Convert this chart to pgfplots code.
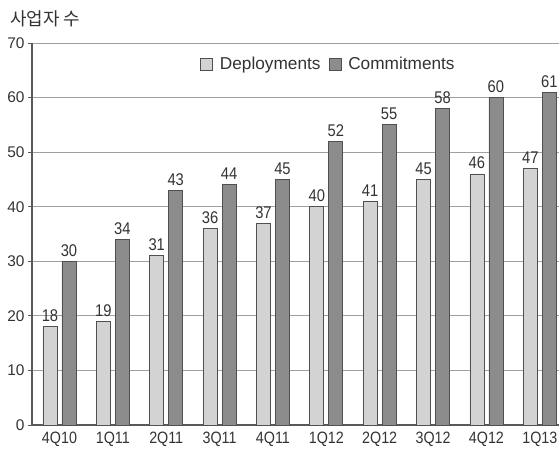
\documentclass[border=0pt]{standalone}
\usepackage{pgfplots}
\pgfplotsset{compat=1.18}
\usepackage{fontspec}
\setmainfont{Liberation Sans}
\newfontfamily\cond[FakeStretch=0.87]{Liberation Sans}
\newfontfamily\kr{Noto Sans CJK KR}
\definecolor{lightbar}{HTML}{D3D3D3}
\definecolor{darkbar}{HTML}{8C8C8C}
\definecolor{edge}{HTML}{505050}
\definecolor{gridc}{HTML}{A0A0A0}
\definecolor{txt}{HTML}{333333}
\begin{document}
\begin{tikzpicture}
  \begin{axis}[
    scale only axis,
    width=527bp,
    height=382bp,
    ymin=0, ymax=70,
    xmin=-0.515, xmax=9.36,
    ytick={0,10,...,70},
    xtick=data,
    xticklabels={4Q10,1Q11,2Q11,3Q11,4Q11,1Q12,2Q12,3Q12,4Q12,1Q13},
    /pgf/number format/assume math mode=true,
    yticklabel style={font=\fontsize{15.5}{17}\selectfont, text=txt},
    xticklabel style={font=\cond\fontsize{16.5}{18}\selectfont, text=txt},
    axis x line*=bottom,
    axis y line*=left,
    axis line style={draw=black!65, line width=1.1pt},
    ymajorgrids,
    grid style={draw=gridc, line width=0.8pt},
    tick align=outside,
    major tick length=4bp,
    xtick style={draw=none},
    ytick style={draw=black!65, line width=0.9pt},
    ybar,
    bar width=14bp,
    nodes near coords,
    every node near coord/.append style={font=\cond\fontsize{17}{19}\selectfont,
      text=txt, inner sep=1.5bp, yshift=3bp},
    legend style={at={(0.313,0.944)}, anchor=west, draw=none, fill=none,
      legend columns=2, font=\fontsize{17.3}{19}\selectfont, text=txt,
      /tikz/every even column/.append style={column sep=6bp}},
    legend image code/.code={\draw[#1] (0bp,-6bp) rectangle (12bp,6bp);
      \path (17bp,0bp);},
    clip=false,
  ]
    \addplot[fill=lightbar, draw=edge, line width=0.8pt, bar shift=-9.5bp]
    coordinates {
      (0,18) (1,19) (2,31) (3,36) (4,37)
      (5,40) (6,41) (7,45) (8,46) (9,47)
    };
    \addplot[fill=darkbar, draw=edge, line width=0.8pt, bar shift=9.5bp]
    coordinates {
      (0,30) (1,34) (2,43) (3,44) (4,45)
      (5,52) (6,55) (7,58) (8,60) (9,61)
    };
    \addlegendentry{Deployments}
    \addlegendentry{Commitments}
  \end{axis}
  \node[anchor=base west, inner sep=0pt, font=\kr\fontsize{18}{20}\selectfont, text=txt]
    at ([xshift=-22bp,yshift=17bp]current axis.north west) {사업자 수};
  \pgfresetboundingbox
  \path[use as bounding box] ([xshift=-32bp,yshift=-27bp]current axis.south west)
    rectangle ([yshift=43bp]current axis.north east);
\end{tikzpicture}
\end{document}
